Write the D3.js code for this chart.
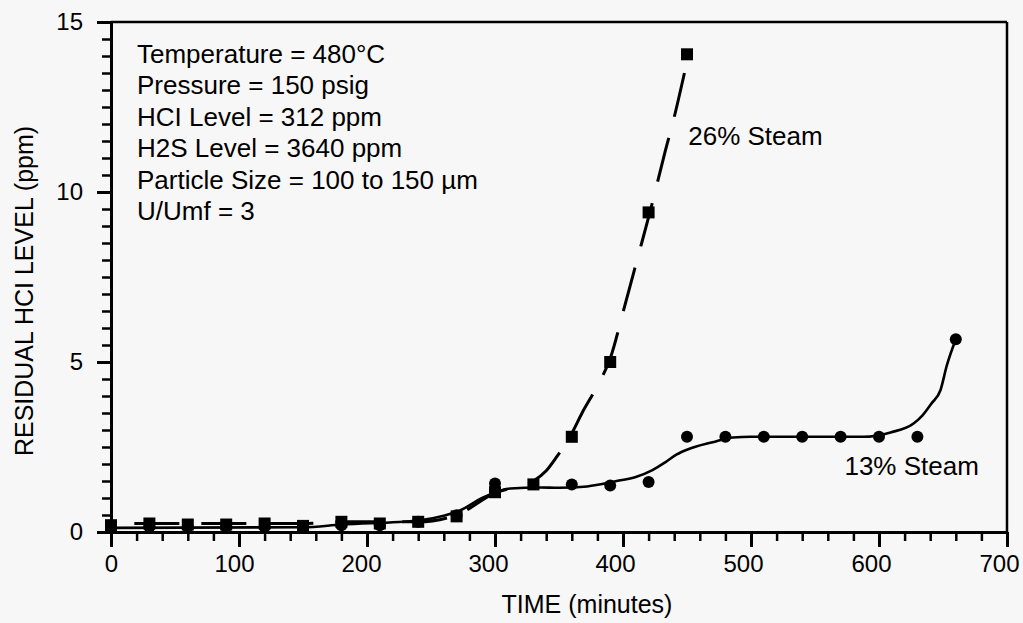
<!DOCTYPE html>
<html>
<head>
<meta charset="utf-8">
<script src="https://cdn.jsdelivr.net/npm/d3@7"></script>
<style>
  body { margin: 0; background: #f7f7f7; }
  svg { display: block; }
  text { font-family: "Liberation Sans", Arial, Helvetica, sans-serif; fill: #000; }
</style>
</head>
<body>
<div id="chart"></div>
<script>
// measured points, 26% steam (squares)
const time26 = [0, 30, 60, 90, 120, 150, 180, 210, 240, 270, 300, 330, 360, 390, 420, 450];
const level26 = [0.2, 0.25, 0.22, 0.22, 0.25, 0.18, 0.3, 0.25, 0.3, 0.46, 1.17, 1.4, 2.8, 5.0, 9.4, 14.05];

// measured points, 13% steam (circles)
const time13 = [0, 30, 60, 90, 120, 150, 180, 210, 240, 270, 300, 360, 390, 420, 450, 480, 510, 540, 570, 600, 630, 660];
const level13 = [0.15, 0.15, 0.15, 0.15, 0.15, 0.15, 0.2, 0.2, 0.3, 0.49, 1.43, 1.4, 1.37, 1.47, 2.8, 2.8, 2.8, 2.8, 2.8, 2.8, 2.8, 5.67];

// fitted curves
const fitTime26 = [0, 150, 180, 240, 270, 300, 330, 340, 348, 360, 368, 380, 390, 401, 411, 421, 433, 440, 448];
const fitLevel26 = [0.25, 0.25, 0.3, 0.3, 0.5, 1.15, 1.5, 1.8, 2.2, 2.9, 3.5, 4.3, 5.1, 6.6, 8.0, 9.4, 11.2, 12.2, 13.5];

const fitTime13 = [0, 150, 180, 240, 260, 273, 290, 312, 335, 350, 372, 395, 410, 423, 433, 442, 450, 470, 486, 500, 588, 609, 627, 634, 641, 648, 653, 660];
const fitLevel13 = [0.12, 0.14, 0.22, 0.34, 0.48, 0.64, 1.0, 1.28, 1.31, 1.3, 1.34, 1.5, 1.62, 1.82, 2.05, 2.28, 2.42, 2.64, 2.78, 2.8, 2.8, 2.93, 3.19, 3.43, 3.78, 4.17, 4.9, 5.67];

const xTicks = [0, 100, 200, 300, 400, 500, 600, 700];
const yTicks = [0, 5, 10, 15];

const notes = ["Temperature = 480°C", "Pressure = 150 psig", "HCI Level = 312 ppm",
               "H2S Level = 3640 ppm", "Particle Size = 100 to 150 µm", "U/Umf = 3"];

// label anchor in data units (start of text, baseline)
const seriesLabels = [
    {text: "26% Steam", t: 451, v: 11.37},
    {text: "13% Steam", t: 573, v: 1.67}
];

const margin = {top: 22, right: 16, bottom: 91, left: 111};
const width = 1023 - margin.left - margin.right;
const height = 623 - margin.top - margin.bottom;

const svg = d3.select("#chart").append("svg")
    .attr("width", 1023)
    .attr("height", 623)
    .append("g")
    .attr("transform", `translate(${margin.left},${margin.top})`);

const x = d3.scaleLinear().domain([0, 700]).range([0, width]);
const y = d3.scaleLinear().domain([0, 15]).range([height, 0]);

// frame top and right
svg.append("line").attr("x1", 0).attr("x2", width).attr("y1", 0).attr("y2", 0)
    .attr("stroke", "#000").attr("stroke-width", 2.5);
svg.append("line").attr("x1", width).attr("x2", width).attr("y1", 0).attr("y2", height)
    .attr("stroke", "#000").attr("stroke-width", 2.5);

// minor ticks
svg.append("g").attr("transform", `translate(0,${height})`)
    .call(d3.axisBottom(x).tickValues(d3.range(0, 701, 20)).tickSize(9).tickFormat(""))
    .call(g => g.select(".domain").remove())
    .call(g => g.selectAll("line").attr("stroke-width", 2.5));
svg.append("g")
    .call(d3.axisLeft(y).tickValues(d3.range(0, 15.01, 0.5)).tickSize(9).tickFormat(""))
    .call(g => g.select(".domain").remove())
    .call(g => g.selectAll("line").attr("stroke-width", 2.5));

// major axes
const xAxis = svg.append("g").attr("transform", `translate(0,${height})`)
    .call(d3.axisBottom(x).tickValues(xTicks).tickSize(15).tickSizeOuter(0).tickPadding(8));
const yAxis = svg.append("g")
    .call(d3.axisLeft(y).tickValues(yTicks).tickSize(14).tickSizeOuter(0).tickPadding(14));

[xAxis, yAxis].forEach(a => {
    a.select(".domain").attr("stroke-width", 3);
    a.selectAll("line").attr("stroke-width", 3);
    a.selectAll("text").style("font-size", "24px").attr("fill", "#000");
});
// the printed labels sit a little left of their ticks
xAxis.selectAll("text").attr("dx", d => d === 0 ? 0 : -Math.min(8, 4 + d / 100));

// fitted curves
const line = d3.line().curve(d3.curveMonotoneX).x(d => x(d[0])).y(d => y(d[1]));

svg.append("path")
    .datum(fitTime13.map((t, i) => [t, fitLevel13[i]]))
    .attr("d", line)
    .attr("fill", "none").attr("stroke", "#000").attr("stroke-width", 2.6);

const dashed = svg.append("path")
    .datum(fitTime26.map((t, i) => [t, fitLevel26[i]]))
    .attr("d", line)
    .attr("fill", "none").attr("stroke", "#000").attr("stroke-width", 3)
    .attr("stroke-dasharray", "45,22");
const len = dashed.node().getTotalLength();
dashed.attr("stroke-dashoffset", (67 - ((len - 45) % 67)) % 67);

// markers
svg.selectAll(".pt13").data(time13.map((t, i) => [t, level13[i]]))
    .enter().append("circle")
    .attr("class", "pt13")
    .attr("cx", d => x(d[0])).attr("cy", d => y(d[1]))
    .attr("r", 6).attr("fill", "#000");

svg.selectAll(".pt26").data(time26.map((t, i) => [t, level26[i]]))
    .enter().append("rect")
    .attr("class", "pt26")
    .attr("x", d => x(d[0]) - 6).attr("y", d => y(d[1]) - 6)
    .attr("width", 12).attr("height", 12).attr("fill", "#000");

// condition notes
svg.append("g").selectAll("text").data(notes).enter().append("text")
    .attr("x", 26)
    .attr("y", (d, i) => 41 + i * 31.4)
    .style("font-size", "26px")
    .text(d => d);

// series labels
svg.selectAll(".slabel").data(seriesLabels).enter().append("text")
    .attr("class", "slabel")
    .attr("x", d => x(d.t))
    .attr("y", d => y(d.v))
    .style("font-size", "26px")
    .text(d => d.text);

// axis titles
svg.append("text")
    .attr("x", 587 - margin.left)
    .attr("y", height + 81)
    .attr("text-anchor", "middle")
    .style("font-size", "25px")
    .text("TIME (minutes)");

svg.append("text")
    .attr("transform", `translate(${33 - margin.left},${291 - margin.top}) rotate(-90)`)
    .attr("text-anchor", "middle")
    .style("font-size", "25px")
    .text("RESIDUAL HCI LEVEL (ppm)");
</script>
</body>
</html>
